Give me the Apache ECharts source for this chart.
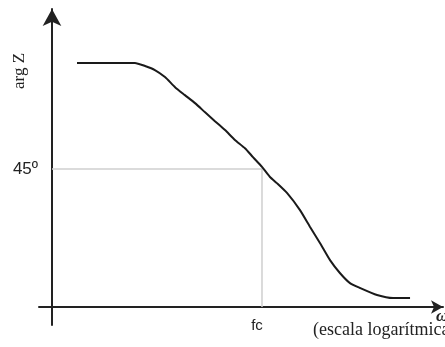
<!DOCTYPE html>
<html>
<head>
<meta charset="utf-8">
<script src="https://cdn.jsdelivr.net/npm/echarts@6/dist/echarts.min.js"></script>
<style>html,body{margin:0;padding:0;background:#fff;}#c{width:445px;height:347px;}</style>
</head>
<body>
<div id="c"></div>
<script>
// x: log-frequency in units of fc (fc = 1), y: phase of Z in degrees
var curveX = [0.119,0.395,0.443,0.490,0.538,0.586,0.633,0.681,0.729,0.776,0.824,0.871,0.919,0.957,1.000,1.038,1.071,1.119,1.181,1.229,1.276,1.324,1.371,1.419,1.467,1.548,1.624,1.705];
var curveY = [79.6,79.6,78.6,77.3,75.0,71.7,69.1,66.5,63.5,60.6,57.7,54.5,51.8,48.9,45.7,42.4,40.4,37.2,31.6,26.1,20.9,15.3,11.1,7.8,6.2,3.9,2.9,2.9];
var refX = [0, 1, 1];
var refY = [45, 45, 0];
var yTickValues = [45];
var yTickLabels = ['45º'];
var xTickValues = [1];
var xTickLabels = ['fc'];

var chart = echarts.init(document.getElementById('c'), null, {renderer: 'canvas'});
var curve = curveX.map(function (x, i) { return [x, curveY[i]]; });
var ref = refX.map(function (x, i) { return [x, refY[i]]; });

chart.setOption({
  animation: false,
  backgroundColor: '#fff',
  grid: {left: 39, right: 2, top: 9, bottom: 22},
  xAxis: {
    type: 'value', min: -0.0619, max: 1.862,
    splitLine: {show: false},
    axisTick: {show: false},
    axisLine: {onZero: true, lineStyle: {color: '#222', width: 2}, symbol: ['none', 'arrow'], symbolSize: [10, 12]},
    axisLabel: {customValues: xTickValues, formatter: function (v) { return xTickLabels[xTickValues.indexOf(v)] || ''; },
      margin: -7, padding: [0, 10, 0, 0], color: '#222', fontSize: 15, fontFamily: 'Liberation Sans'}
  },
  yAxis: {
    type: 'value', min: -5.87, max: 97.2,
    splitLine: {show: false},
    axisTick: {show: false},
    axisLine: {onZero: true, lineStyle: {color: '#222', width: 2}, symbol: ['none', 'arrow'], symbolSize: [14, 17]},
    axisLabel: {customValues: yTickValues, formatter: function (v) { return yTickLabels[yTickValues.indexOf(v)] || ''; },
      margin: 1, color: '#222', fontSize: 17, fontFamily: 'Liberation Sans'}
  },
  series: [
    {type: 'line', data: ref, symbol: 'none', lineStyle: {color: '#cfcfcf', width: 1.5}, z: 1},
    {type: 'line', data: curve, symbol: 'none', smooth: 0.2, lineStyle: {color: '#1a1a1a', width: 2}, z: 3}
  ],
  graphic: [
    {type: 'text', x: 20, y: 71, rotation: Math.PI / 2,
      style: {text: 'arg Z', font: '17px "Liberation Serif"', fill: '#222', align: 'center', verticalAlign: 'middle'}},
    {type: 'text', x: 436, y: 317,
      style: {text: 'ω', font: 'italic bold 17px "Liberation Serif"', fill: '#222', align: 'left', verticalAlign: 'middle'}},
    {type: 'text', x: 313, y: 330,
      style: {text: '(escala logarítmica)', font: '18px "Liberation Serif"', fill: '#222', align: 'left', verticalAlign: 'middle'}}
  ]
});
</script>
</body>
</html>
